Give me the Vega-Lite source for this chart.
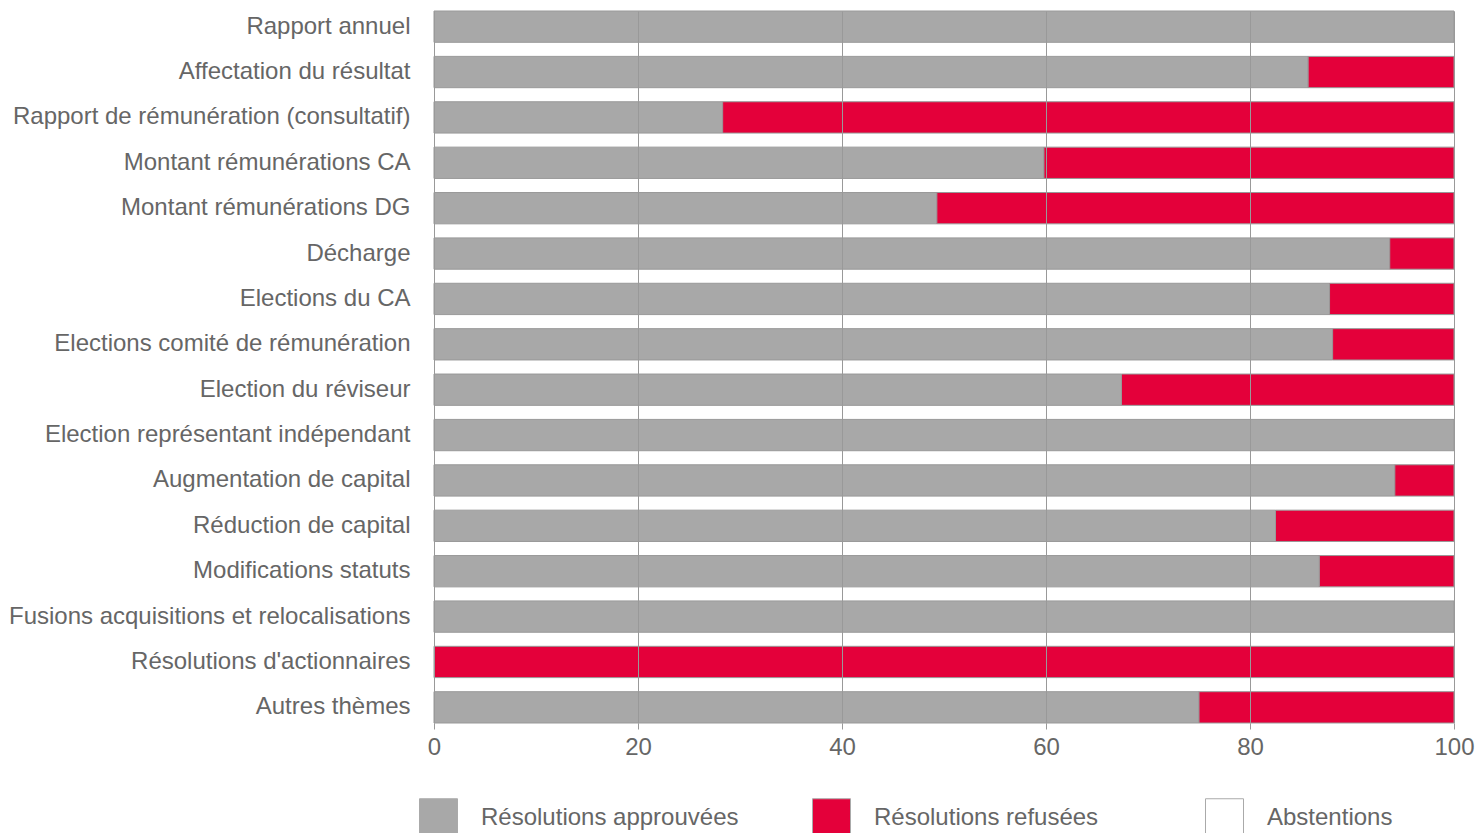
{
  "$schema": "https://vega.github.io/schema/vega-lite/v6.json",
  "autosize": {"type": "none"},
  "padding": {"left": 434, "top": 11, "right": 24, "bottom": 110},
  "width": 1020,
  "height": 712,
  "background": "white",
  "data": {
    "values": [
      {"theme": "Rapport annuel", "type": "Résolutions approuvées", "pct": 100},
      {"theme": "Affectation du résultat", "type": "Résolutions approuvées", "pct": 85.7},
      {"theme": "Affectation du résultat", "type": "Résolutions refusées", "pct": 14.3},
      {"theme": "Rapport de rémunération (consultatif)", "type": "Résolutions approuvées", "pct": 28.3},
      {"theme": "Rapport de rémunération (consultatif)", "type": "Résolutions refusées", "pct": 71.7},
      {"theme": "Montant rémunérations CA", "type": "Résolutions approuvées", "pct": 59.8},
      {"theme": "Montant rémunérations CA", "type": "Résolutions refusées", "pct": 40.2},
      {"theme": "Montant rémunérations DG", "type": "Résolutions approuvées", "pct": 49.3},
      {"theme": "Montant rémunérations DG", "type": "Résolutions refusées", "pct": 50.7},
      {"theme": "Décharge", "type": "Résolutions approuvées", "pct": 93.7},
      {"theme": "Décharge", "type": "Résolutions refusées", "pct": 6.3},
      {"theme": "Elections du CA", "type": "Résolutions approuvées", "pct": 87.8},
      {"theme": "Elections du CA", "type": "Résolutions refusées", "pct": 12.2},
      {"theme": "Elections comité de rémunération", "type": "Résolutions approuvées", "pct": 88.1},
      {"theme": "Elections comité de rémunération", "type": "Résolutions refusées", "pct": 11.9},
      {"theme": "Election du réviseur", "type": "Résolutions approuvées", "pct": 67.4},
      {"theme": "Election du réviseur", "type": "Résolutions refusées", "pct": 32.6},
      {"theme": "Election représentant indépendant", "type": "Résolutions approuvées", "pct": 100},
      {"theme": "Augmentation de capital", "type": "Résolutions approuvées", "pct": 94.2},
      {"theme": "Augmentation de capital", "type": "Résolutions refusées", "pct": 5.8},
      {"theme": "Réduction de capital", "type": "Résolutions approuvées", "pct": 82.5},
      {"theme": "Réduction de capital", "type": "Résolutions refusées", "pct": 17.5},
      {"theme": "Modifications statuts", "type": "Résolutions approuvées", "pct": 86.8},
      {"theme": "Modifications statuts", "type": "Résolutions refusées", "pct": 13.2},
      {"theme": "Fusions acquisitions et relocalisations", "type": "Résolutions approuvées", "pct": 100},
      {"theme": "Résolutions d'actionnaires", "type": "Résolutions refusées", "pct": 100},
      {"theme": "Autres thèmes", "type": "Résolutions approuvées", "pct": 75.0},
      {"theme": "Autres thèmes", "type": "Résolutions refusées", "pct": 25.0}
    ]
  },
  "mark": {"type": "bar", "stroke": "#999999", "strokeWidth": 1},
  "encoding": {
    "y": {
      "field": "theme",
      "type": "nominal",
      "sort": null,
      "title": null,
      "scale": {"paddingInner": 0.31, "paddingOuter": 0},
      "axis": {
        "domain": false,
        "ticks": false,
        "labelPadding": 24,
        "labelFontSize": 24,
        "labelFont": "Liberation Sans",
        "labelColor": "#666666",
        "labelLimit": 600
      }
    },
    "x": {
      "field": "pct",
      "type": "quantitative",
      "stack": "zero",
      "title": null,
      "scale": {"domain": [0, 100], "nice": false},
      "axis": {
        "values": [0, 20, 40, 60, 80, 100],
        "grid": true,
        "gridColor": "#999999",
        "gridWidth": 1,
        "gridOpacity": 1,
        "domain": false,
        "ticks": true,
        "tickColor": "#999999",
        "tickSize": 6,
        "labelPadding": 6,
        "labelFontSize": 24,
        "labelFont": "Liberation Sans",
        "labelColor": "#666666",
        "labelFlush": false,
        "zindex": 1
      }
    },
    "color": {
      "field": "type",
      "type": "nominal",
      "title": null,
      "scale": {
        "domain": ["Résolutions approuvées", "Résolutions refusées", "Abstentions"],
        "range": ["#a8a8a8", "#e4003a", "#ffffff"]
      },
      "legend": {
        "orient": "none",
        "legendX": -15,
        "legendY": 787,
        "direction": "horizontal",
        "columns": 3,
        "gridAlign": "all",
        "columnPadding": 71,
        "symbolType": "square",
        "symbolSize": 1444,
        "symbolStrokeColor": "#aaaaaa",
        "symbolStrokeWidth": 1,
        "symbolOpacity": 1,
        "labelOffset": 23,
        "labelFontSize": 24,
        "labelFont": "Liberation Sans",
        "labelColor": "#666666",
        "labelLimit": 400
      }
    }
  },
  "config": {
    "view": {"stroke": null}
  }
}
